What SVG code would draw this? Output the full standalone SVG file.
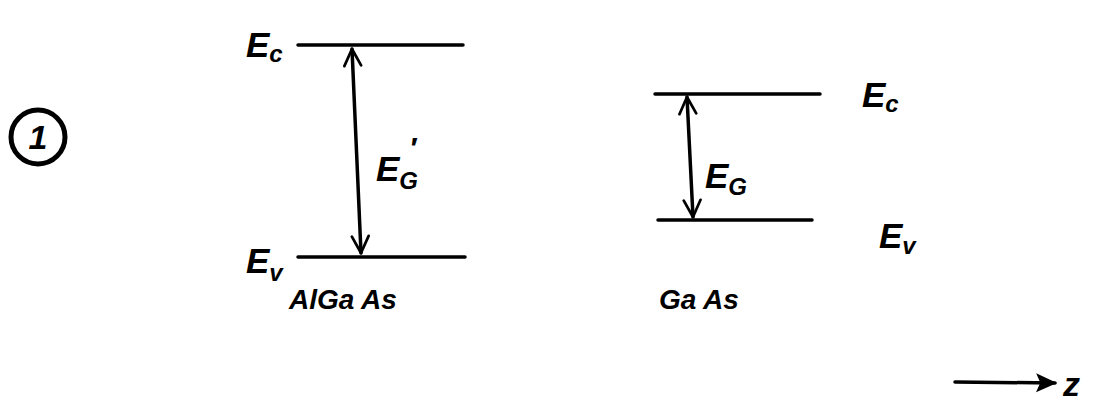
<svg xmlns="http://www.w3.org/2000/svg" width="1103" height="416" viewBox="0 0 1103 416">
<style>
.t{font-family:"Liberation Sans",Arial,sans-serif;font-style:italic;font-weight:bold;fill:#000}
.big{font-size:35px}
.sub{font-size:24px}
.lbl{font-size:28px}
.ln{stroke:#000;stroke-width:3.5;fill:none;stroke-linecap:round}
</style>
<defs>
<marker id="ah" viewBox="0 0 10 10" refX="9" refY="5" markerWidth="6" markerHeight="6" orient="auto-start-reverse" markerUnits="strokeWidth">
<path d="M1,1 L9,5 L1,9" fill="none" stroke="#000" stroke-width="1.3" stroke-linecap="round" stroke-linejoin="round"/>
</marker>
<marker id="ahf" viewBox="0 0 10 10" refX="9" refY="5" markerWidth="6" markerHeight="6" orient="auto">
<path d="M0,0.5 L10,5 L0,9.5 L2,5 Z" fill="#000"/>
</marker>
</defs>
<rect width="1103" height="416" fill="#fff"/>

<g id="label-1">
<circle cx="38" cy="137" r="27" fill="none" stroke="#000" stroke-width="5"/>
<text class="t" x="38" y="149" font-size="34" text-anchor="middle">1</text>
</g>

<g id="algaas">
<line class="ln" x1="298" y1="45" x2="463" y2="45"/>
<line class="ln" x1="298" y1="257" x2="465" y2="257"/>
<text class="t big" x="246" y="57">E<tspan class="sub" dy="5">c</tspan></text>
<text class="t big" x="246" y="273">E<tspan class="sub" dy="8">v</tspan></text>
<text class="t big" x="376" y="181">E<tspan class="sub" dy="8">G</tspan></text>
<text class="t" x="409" y="158" font-size="30">′</text>
<text class="t lbl" x="289" y="309">AlGa As</text>
</g>

<g id="gaas">
<line class="ln" x1="655" y1="94" x2="820" y2="94"/>
<line class="ln" x1="658" y1="220" x2="812" y2="220"/>
<text class="t big" x="862" y="107">E<tspan class="sub" dy="5">c</tspan></text>
<text class="t big" x="879" y="248">E<tspan class="sub" dy="6">v</tspan></text>
<text class="t big" x="705" y="188">E<tspan class="sub" dy="7">G</tspan></text>
<text class="t lbl" x="659" y="309">Ga As</text>
</g>

<g id="axis">
<text class="t" x="1063" y="396" font-size="34">z</text>
</g>

<g id="connectors">
<line class="ln" x1="352" y1="49" x2="361" y2="253" marker-start="url(#ah)" marker-end="url(#ah)"/>
<line class="ln" x1="687" y1="97" x2="693" y2="217" marker-start="url(#ah)" marker-end="url(#ah)"/>
<line class="ln" x1="955" y1="382" x2="1055" y2="383" marker-end="url(#ahf)"/>
</g>
</svg>
